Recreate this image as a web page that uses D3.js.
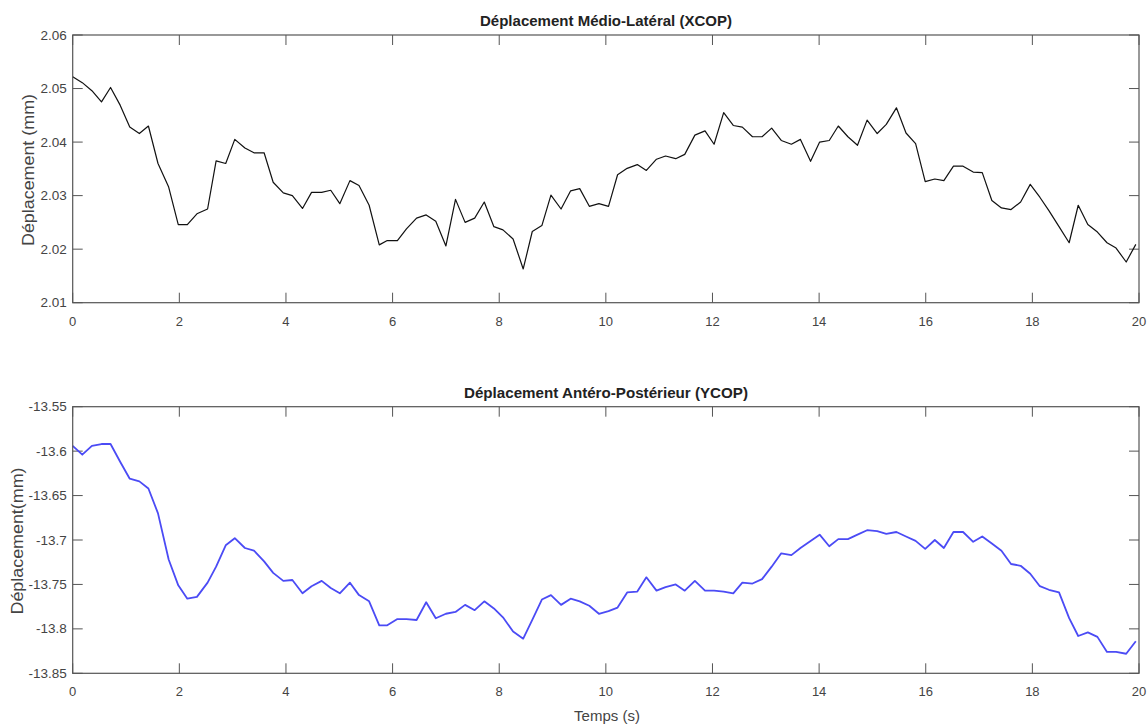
<!DOCTYPE html>
<html>
<head>
<meta charset="utf-8">
<script src="https://cdn.jsdelivr.net/npm/d3@7"></script>
<style>
  body { margin: 0; background: #fff; }
  svg text { font-family: "Liberation Sans", Arial, sans-serif; }
</style>
</head>
<body>
<div id="chart"></div>
<script>
// temps (s) des échantillons
const temps = [0, 0.18, 0.36, 0.54, 0.71, 0.89, 1.07, 1.25, 1.42, 1.6, 1.8, 1.98, 2.15, 2.33, 2.53, 2.69,
  2.87, 3.04, 3.23, 3.4, 3.59, 3.76, 3.95, 4.12, 4.31, 4.48, 4.67, 4.84, 5.01, 5.2, 5.37, 5.56,
  5.75, 5.9, 6.09, 6.26, 6.45, 6.63, 6.81, 7.0, 7.18, 7.36, 7.54, 7.72, 7.9, 8.07, 8.26, 8.45,
  8.62, 8.8, 8.97, 9.16, 9.34, 9.51, 9.69, 9.87, 10.05, 10.22, 10.4, 10.59, 10.76, 10.95, 11.12, 11.31,
  11.48, 11.67, 11.86, 12.03, 12.21, 12.39, 12.56, 12.75, 12.93, 13.11, 13.29, 13.48, 13.65, 13.84, 14.01, 14.19,
  14.36, 14.54, 14.72, 14.9, 15.09, 15.26, 15.45, 15.63, 15.81, 15.99, 16.17, 16.34, 16.52, 16.7, 16.89, 17.06,
  17.24, 17.42, 17.6, 17.78, 17.96, 18.14, 18.31, 18.5, 18.69, 18.86, 19.04, 19.22, 19.4, 19.57, 19.76, 19.94];

const xcop = [2.0522, 2.0511, 2.0496, 2.0475, 2.0502, 2.0469, 2.0428, 2.0416, 2.0430, 2.0360, 2.0316, 2.0246, 2.0246, 2.0266, 2.0275, 2.0365,
  2.0360, 2.0405, 2.0389, 2.0380, 2.0380, 2.0325, 2.0305, 2.0300, 2.0276, 2.0306, 2.0306, 2.0310, 2.0285, 2.0328, 2.0319, 2.0282,
  2.0208, 2.0216, 2.0216, 2.0238, 2.0258, 2.0264, 2.0252, 2.0206, 2.0293, 2.0250, 2.0258, 2.0288, 2.0242, 2.0236, 2.0219, 2.0163,
  2.0233, 2.0244, 2.0301, 2.0275, 2.0309, 2.0313, 2.0280, 2.0285, 2.0280, 2.0339, 2.0351, 2.0358, 2.0347, 2.0368, 2.0374, 2.0369,
  2.0377, 2.0413, 2.0421, 2.0396, 2.0455, 2.0431, 2.0428, 2.0410, 2.0410, 2.0426, 2.0403, 2.0396, 2.0405, 2.0364, 2.0400, 2.0403,
  2.0430, 2.0410, 2.0394, 2.0441, 2.0416, 2.0433, 2.0464, 2.0417, 2.0397, 2.0326, 2.0331, 2.0328, 2.0355, 2.0355, 2.0344, 2.0343,
  2.0291, 2.0277, 2.0274, 2.0288, 2.0321, 2.0297, 2.0272, 2.0242, 2.0212, 2.0282, 2.0246, 2.0232, 2.0212, 2.0202, 2.0176, 2.0209];

const ycop = [-13.594, -13.604, -13.594, -13.592, -13.592, -13.612, -13.631, -13.634, -13.642, -13.670, -13.722, -13.751, -13.766, -13.764, -13.748, -13.730,
  -13.706, -13.698, -13.709, -13.712, -13.724, -13.737, -13.746, -13.745, -13.760, -13.752, -13.746, -13.754, -13.760, -13.748, -13.762, -13.769,
  -13.796, -13.796, -13.789, -13.789, -13.790, -13.770, -13.788, -13.783, -13.781, -13.773, -13.779, -13.769, -13.777, -13.787, -13.803, -13.811,
  -13.790, -13.767, -13.762, -13.773, -13.766, -13.769, -13.774, -13.783, -13.780, -13.776, -13.759, -13.758, -13.742, -13.757, -13.753, -13.750,
  -13.757, -13.746, -13.757, -13.757, -13.758, -13.760, -13.748, -13.749, -13.744, -13.730, -13.715, -13.717, -13.709, -13.701, -13.694, -13.707,
  -13.699, -13.699, -13.694, -13.689, -13.690, -13.693, -13.691, -13.696, -13.701, -13.710, -13.700, -13.709, -13.691, -13.691, -13.702, -13.696,
  -13.704, -13.712, -13.727, -13.729, -13.738, -13.752, -13.756, -13.759, -13.788, -13.808, -13.804, -13.809, -13.826, -13.826, -13.828, -13.814];

const xTicks = [0, 2, 4, 6, 8, 10, 12, 14, 16, 18, 20];
const xcopTicks = [2.01, 2.02, 2.03, 2.04, 2.05, 2.06];
const ycopTicks = [-13.85, -13.8, -13.75, -13.7, -13.65, -13.6, -13.55];

const W = 1148, H = 726;
const svg = d3.select("#chart").append("svg").attr("width", W).attr("height", H);

const left = 72.7, right = 1139;
const x = d3.scaleLinear().domain([0, 20]).range([left, right]);

function drawPanel(cfg) {
    const y = d3.scaleLinear().domain(cfg.domain).range([cfg.bottom, cfg.top]);
    const g = svg.append("g");
    const tickLen = 10, axisCol = "#555";

    // graduations (vers l'intérieur, sur les 4 côtés)
    const tk = g.append("g").attr("stroke", axisCol).attr("stroke-width", 1);
    xTicks.forEach(function (t) {
        tk.append("line").attr("x1", x(t)).attr("x2", x(t)).attr("y1", cfg.bottom).attr("y2", cfg.bottom - tickLen);
        tk.append("line").attr("x1", x(t)).attr("x2", x(t)).attr("y1", cfg.top).attr("y2", cfg.top + tickLen);
    });
    cfg.ticks.forEach(function (v) {
        tk.append("line").attr("x1", left).attr("x2", left + tickLen).attr("y1", y(v)).attr("y2", y(v));
        tk.append("line").attr("x1", right).attr("x2", right - tickLen).attr("y1", y(v)).attr("y2", y(v));
    });

    // tracé
    const line = d3.line()
        .x(function (d, i) { return x(temps[i]); })
        .y(function (d) { return y(d); });
    g.append("path")
        .datum(cfg.values)
        .attr("fill", "none")
        .attr("stroke", cfg.color)
        .attr("stroke-width", cfg.width)
        .attr("stroke-linejoin", "round")
        .attr("d", line);

    // cadre
    g.append("rect")
        .attr("x", left).attr("y", cfg.top)
        .attr("width", right - left).attr("height", cfg.bottom - cfg.top)
        .attr("fill", "none").attr("stroke", axisCol).attr("stroke-width", 1.2);

    // libellés des graduations
    g.selectAll(".xl").data(xTicks).enter().append("text")
        .attr("x", function (d) { return x(d); })
        .attr("y", cfg.bottom + 23)
        .attr("text-anchor", "middle")
        .attr("font-size", 13).attr("fill", "#444")
        .text(function (d) { return d; });
    g.selectAll(".yl").data(cfg.ticks).enter().append("text")
        .attr("x", left - 6)
        .attr("y", function (d) { return y(d) + 4.5; })
        .attr("text-anchor", "end")
        .attr("font-size", 13.5).attr("fill", "#444")
        .text(function (d) { return d; });

    // titre et axe Y
    g.append("text")
        .attr("x", 606).attr("y", cfg.top - 9)
        .attr("text-anchor", "middle")
        .attr("font-size", 14).attr("font-weight", "bold").attr("fill", "#222")
        .attr("textLength", cfg.titleLen).attr("lengthAdjust", "spacingAndGlyphs")
        .text(cfg.title);
    g.append("text")
        .attr("transform", "translate(" + cfg.ylabelX + "," + cfg.ylabelY + ") rotate(-90)")
        .attr("text-anchor", "middle")
        .attr("font-size", 16).attr("fill", "#444")
        .attr("textLength", cfg.ylabelLen).attr("lengthAdjust", "spacingAndGlyphs")
        .text(cfg.ylabel);
}

drawPanel({
    top: 35, bottom: 302.7, domain: [2.01, 2.06], ticks: xcopTicks, values: xcop,
    color: "#111", width: 1.2, title: "Déplacement Médio-Latéral (XCOP)", titleLen: 252,
    ylabel: "Déplacement (mm)", ylabelX: 34, ylabelY: 170, ylabelLen: 152
});
drawPanel({
    top: 406.7, bottom: 673.3, domain: [-13.85, -13.55], ticks: ycopTicks, values: ycop,
    color: "#4b4bf5", width: 1.8, title: "Déplacement Antéro-Postérieur (YCOP)", titleLen: 284,
    ylabel: "Déplacement(mm)", ylabelX: 23, ylabelY: 541, ylabelLen: 147
});

svg.append("text")
    .attr("x", 607).attr("y", 721)
    .attr("text-anchor", "middle")
    .attr("font-size", 15).attr("fill", "#444")
    .text("Temps (s)");
</script>
</body>
</html>
